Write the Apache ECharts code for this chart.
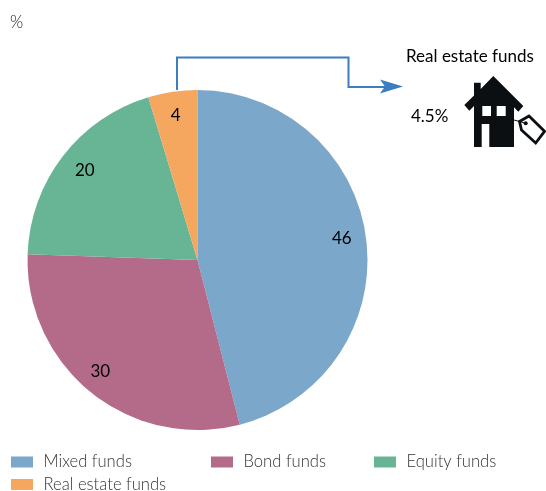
<!DOCTYPE html>
<html>
<head>
<meta charset="utf-8">
<style>html,body{margin:0;padding:0;background:#fff}#main{width:546px;height:491px}</style>
<script src="https://cdn.jsdelivr.net/npm/echarts@6/dist/echarts.min.js"></script>
</head>
<body>
<div id="main"></div>
<script>
var categories = ['Mixed funds', 'Bond funds', 'Equity funds', 'Real estate funds'];
var values = [46, 29.55, 19.78, 4.67];
var sliceLabels = ['46', '30', '20', '4'];
var colors = ['#7ba7cb', '#b46b8a', '#67b594', '#f6a75f'];
var labelOffsets = [[57, -10], [-42, 43], [-43, -36], [-9, -57]];
var legendSpots = [[11, 453.5], [211, 453.5], [374, 453.5], [11, 476]];

var fontName = 'Lato';
var chart = echarts.init(document.getElementById('main'));

var lineColor = '#3b7dbf';
var pieData = categories.map(function (name, i) {
  return {
    name: name,
    value: values[i],
    itemStyle: { color: colors[i] },
    label: { offset: labelOffsets[i], formatter: sliceLabels[i] }
  };
});

var legends = categories.map(function (name, i) {
  return {
    data: [name],
    left: legendSpots[i][0],
    top: legendSpots[i][1],
    padding: 0,
    itemWidth: 22,
    itemHeight: 11,
    itemGap: 0,
    selectedMode: false,
    icon: 'rect',
    textStyle: { fontFamily: fontName, fontSize: 16.6, fontWeight: 300, color: '#333', padding: [1, 0, 0, 5.5] }
  };
});

var option = {
  animation: false,
  legend: legends,
  series: [{
    type: 'pie',
    center: [197.5, 260],
    radius: [0, 170],
    startAngle: 90,
    silent: true,
    label: { position: 'inside', fontFamily: fontName, fontSize: 17, color: '#000' },
    labelLine: { show: false },
    data: pieData
  }],
  graphic: [
    { type: 'text', left: 10, top: 14, style: { text: '%', font: '300 17px ' + fontName, fill: '#222' } },
    // pale edge between the orange and blue slices
    { type: 'line', shape: { x1: 197, y1: 90, x2: 197, y2: 259 }, style: { stroke: '#f5d79c', lineWidth: 1.4 } },
    { type: 'polyline', shape: { points: [[177, 90], [177, 57.5], [348.5, 57.5], [348.5, 87], [386, 87]] },
      style: { fill: null, stroke: lineColor, lineWidth: 2 } },
    { type: 'polygon', shape: { points: [[403, 86.5], [380, 79.5], [385, 86.5], [380, 93.5]] }, style: { fill: lineColor } },
    { type: 'text', left: 406, top: 48, style: { text: 'Real estate funds', font: '17px ' + fontName, fill: '#000' } },
    { type: 'text', left: 411, top: 108, style: { text: '4.5%', font: '17px ' + fontName, fill: '#000' } },
    // house icon
    { type: 'polygon', shape: { points: [[493.3, 76], [523.3, 106], [518.3, 111.7], [514, 107.3], [514, 147], [489.3, 147], [489.3, 124], [481.7, 124], [481.7, 147], [474, 147], [474, 106], [469.3, 110.7], [464.3, 105], [474, 95.5], [474, 82.7], [480.7, 82.7], [480.7, 89]] },
      style: { fill: '#0b0f12' } },
    { type: 'rect', shape: { x: 482.3, y: 106, width: 8.7, height: 10 }, style: { fill: '#fff' } },
    { type: 'rect', shape: { x: 496.7, y: 106, width: 9, height: 10 }, style: { fill: '#fff' } },
    // price tag on the house
    { type: 'line', shape: { x1: 514, y1: 120, x2: 525.7, y2: 123.3 }, style: { stroke: '#0b0f12', lineWidth: 1 } },
    { type: 'polygon', shape: { points: [[519.5, 121.5], [529, 116], [544.5, 131.3], [535.7, 143], [521.5, 130]] },
      style: { fill: 'none', stroke: '#0b0f12', lineWidth: 2.8 } },
    { type: 'circle', shape: { cx: 525.7, cy: 123.3, r: 2 }, style: { fill: '#0b0f12' } }
  ]
};
chart.setOption(option);
</script>
</body>
</html>
